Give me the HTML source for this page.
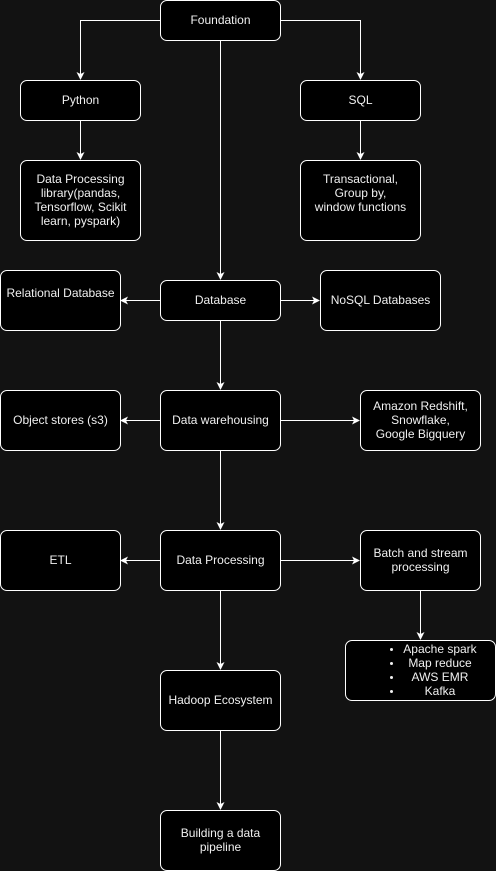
<!DOCTYPE html>
<html><head><meta charset="utf-8"><style>
html,body{margin:0;padding:0;background:#121212;}
body{width:496px;height:871px;position:relative;overflow:hidden;font-family:"Liberation Sans",sans-serif;}
.b{position:absolute;box-sizing:border-box;border:1px solid #fff;border-radius:7px;background:#000;color:#f0f0f0;font-size:12px;line-height:14px;display:flex;align-items:center;justify-content:center;text-align:center;}
svg{position:absolute;left:0;top:0;}
.li{position:absolute;left:0;width:150px;text-align:center;color:#f0f0f0;font-size:12px;line-height:14px;padding-left:40px;box-sizing:border-box;}
.dot{position:absolute;width:3px;height:3px;border-radius:2px;background:#f0f0f0;}
</style></head><body>
<svg width="496" height="871">
<defs><marker id="a" markerWidth="8" markerHeight="8" refX="7" refY="4" orient="auto" markerUnits="userSpaceOnUse"><path d="M0,0 L8,4 L0,8 L2,4z" fill="#fff"/></marker></defs>
<g stroke="#fff" stroke-width="1" fill="none" marker-end="url(#a)">
<path d="M220.5,40 V279"/>
<path d="M160,20.5 H80.5 V79"/>
<path d="M280,20.5 H360.5 V79"/>
<path d="M80.5,120 V159"/>
<path d="M360.5,120 V159"/>
<path d="M160,300.5 H121"/>
<path d="M280,300.5 H319"/>
<path d="M220.5,320 V389"/>
<path d="M160,420.5 H121"/>
<path d="M280,420.5 H359"/>
<path d="M220.5,450 V529"/>
<path d="M160,560.5 H121"/>
<path d="M280,560.5 H359"/>
<path d="M220.5,590 V669"/>
<path d="M420.5,590 V639"/>
<path d="M220.5,730 V809"/>
</g></svg>
<div class="b" style="left:160px;top:0;width:121px;height:41px;padding-bottom:2px">Foundation</div>
<div class="b" style="left:20px;top:80px;width:121px;height:41px;padding-bottom:2px">Python</div>
<div class="b" style="left:300px;top:80px;width:121px;height:41px;padding-bottom:2px">SQL</div>
<div class="b" style="left:20px;top:160px;width:121px;height:81px;padding:0 4px 2px">Data Processing library(pandas, Tensorflow, Scikit learn, pyspark)</div>
<div class="b" style="left:300px;top:160px;width:121px;height:81px;align-items:flex-start;padding-top:11px">Transactional,<br>Group by,<br>window functions</div>
<div class="b" style="left:0;top:270px;width:121px;height:61px;align-items:flex-start;padding-top:15px">Relational Database</div>
<div class="b" style="left:160px;top:280px;width:121px;height:41px;padding-bottom:2px">Database</div>
<div class="b" style="left:320px;top:270px;width:121px;height:61px;padding-bottom:2px">NoSQL Databases</div>
<div class="b" style="left:0;top:390px;width:121px;height:61px;padding-bottom:2px">Object stores (s3)</div>
<div class="b" style="left:160px;top:390px;width:121px;height:61px;padding-bottom:2px">Data warehousing</div>
<div class="b" style="left:360px;top:390px;width:121px;height:61px;padding-bottom:2px">Amazon Redshift,<br>Snowflake,<br>Google Bigquery</div>
<div class="b" style="left:0;top:530px;width:121px;height:61px;padding-bottom:2px">ETL</div>
<div class="b" style="left:160px;top:530px;width:121px;height:61px;padding-bottom:2px">Data Processing</div>
<div class="b" style="left:360px;top:530px;width:121px;height:61px;padding:0 8px 2px">Batch and stream processing</div>
<div class="b" style="left:345px;top:640px;width:151px;height:61px"></div>
<div style="position:absolute;left:345px;top:641px;width:151px;height:60px">
<div class="li" style="top:1px">Apache spark</div>
<div class="li" style="top:15px">Map reduce</div>
<div class="li" style="top:29px">AWS EMR</div>
<div class="li" style="top:43px">Kafka</div>
<div class="dot" style="left:45px;top:7px"></div>
<div class="dot" style="left:45px;top:21px"></div>
<div class="dot" style="left:45px;top:35px"></div>
<div class="dot" style="left:45px;top:49px"></div>
</div>
<div class="b" style="left:160px;top:670px;width:121px;height:61px;padding-bottom:2px">Hadoop Ecosystem</div>
<div class="b" style="left:160px;top:810px;width:121px;height:61px;padding:0 10px 2px">Building a data pipeline</div>
</body></html>
